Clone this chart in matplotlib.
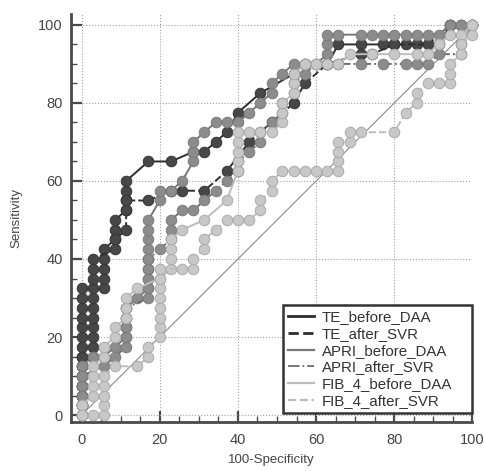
import matplotlib
matplotlib.use('Agg')
import matplotlib.pyplot as plt
from matplotlib.lines import Line2D
from matplotlib.ticker import MultipleLocator

plt.rcParams['font.family'] = ['Liberation Sans', 'DejaVu Sans']

# ROC points (100-Specificity, Sensitivity)
te_before_x = [0, 0, 0, 0, 0, 0, 0, 0, 0, 0, 0, 0, 0, 0,
               5.7, 5.7, 5.7, 5.7, 5.7, 8.6, 8.6, 8.6, 11.4, 11.4, 11.4, 11.4,
               17.1, 22.9, 28.6, 31.4, 34.3, 37.1, 40.0, 45.7, 54.3, 57.1, 62.9,
               65.7, 71.4, 77.1, 80.0, 82.9, 85.7, 91.4, 94.3, 97.1, 100]
te_before_y = [0, 2.5, 5, 7.5, 10, 12.5, 15, 17.5, 20, 22.5, 25, 27.5, 30, 32.5,
               32.5, 35, 37.5, 40, 42.5, 45, 47.5, 50, 52.5, 55, 57.5, 60,
               65, 65, 67.5, 67.5, 70, 72.5, 77.5, 82.5, 87.5, 90, 90,
               95, 95, 95, 95, 95, 95, 95, 100, 100, 100]

te_after_x = [0, 0, 0, 0, 0, 0, 0,
              2.9, 2.9, 2.9, 2.9, 2.9, 2.9, 2.9, 2.9, 2.9, 2.9, 2.9,
              8.6, 8.6, 11.4, 11.4, 11.4, 17.1, 22.9, 25.7, 31.4, 37.1, 42.9,
              48.6, 54.3, 57.1, 62.9, 71.4, 74.3, 80.0, 88.6, 94.3, 100]
te_after_y = [0, 2.5, 5, 7.5, 10, 12.5, 15,
              15, 17.5, 20, 22.5, 25, 27.5, 30, 32.5, 35, 37.5, 40,
              42.5, 45, 47.5, 52.5, 55, 55, 57.5, 57.5, 57.5, 62.5, 70,
              75, 80, 85, 90, 92.5, 92.5, 95, 95, 100, 100]

apri_before_x = [0, 0, 0, 0, 0, 0, 2.9, 5.7, 8.6, 11.4, 11.4, 11.4, 11.4, 14.3,
                 17.1, 17.1, 17.1, 17.1, 17.1, 17.1, 17.1, 17.1, 20.0, 20.0,
                 22.9, 25.7, 28.6, 28.6, 28.6, 31.4, 34.3, 37.1, 40.0, 42.9,
                 45.7, 48.6, 48.6, 51.4, 54.3, 57.1, 60.0, 62.9, 62.9, 62.9,
                 65.7, 71.4, 74.3, 77.1, 80.0, 82.9, 85.7, 88.6, 91.4, 94.3, 97.1, 100]
apri_before_y = [0, 2.5, 5, 7.5, 10, 12.5, 15, 15, 17.5, 20, 22.5, 25, 27.5, 30,
                 32.5, 35, 37.5, 40, 42.5, 45, 47.5, 50, 55, 57.5,
                 57.5, 60, 65, 67.5, 70, 72.5, 75, 75, 75, 77.5,
                 80, 82.5, 85, 87.5, 90, 90, 90, 92.5, 95, 97.5,
                 97.5, 97.5, 97.5, 97.5, 97.5, 97.5, 97.5, 97.5, 97.5, 100, 100, 100]

apri_after_x = [0, 0, 0, 0, 0, 5.7, 8.6, 11.4, 11.4, 11.4, 11.4, 11.4,
                17.1, 17.1, 17.1, 17.1, 17.1, 20.0, 22.9, 22.9, 22.9, 25.7, 28.6,
                31.4, 34.3, 37.1, 40.0, 40.0, 42.9, 45.7, 45.7, 48.6, 51.4, 51.4,
                54.3, 54.3, 57.1, 60.0, 65.7, 71.4, 77.1, 82.9, 85.7, 88.6, 91.4,
                97.1, 97.1, 100]
apri_after_y = [0, 2.5, 5, 7.5, 10, 12.5, 15, 17.5, 20, 22.5, 25, 27.5,
                30, 32.5, 35, 37.5, 40, 42.5, 45, 47.5, 50, 52.5, 52.5,
                55, 57.5, 60, 62.5, 65, 67.5, 70, 72.5, 75, 77.5, 80,
                82.5, 85, 87.5, 90, 90, 90, 90, 90, 90, 90, 92.5,
                92.5, 95, 100]

fib4_before_x = [0, 0, 2.9, 2.9, 2.9, 2.9, 5.7, 5.7, 8.6, 8.6, 11.4, 11.4, 11.4,
                 14.3, 20.0, 22.9, 22.9, 22.9, 22.9, 25.7, 31.4, 37.1,
                 40.0, 40.0, 40.0, 40.0, 40.0, 42.9, 45.7, 48.6, 51.4, 51.4, 51.4,
                 54.3, 54.3, 54.3, 57.1, 60.0, 62.9, 65.7, 68.6, 74.3, 80.0, 85.7,
                 88.6, 91.4, 94.3, 97.1, 100]
fib4_before_y = [0, 2.5, 5, 7.5, 10, 12.5, 15, 17.5, 20, 22.5, 25, 27.5, 30,
                 32.5, 35, 37.5, 40, 42.5, 45, 47.5, 50, 55,
                 62.5, 65, 67.5, 70, 72.5, 72.5, 72.5, 72.5, 75, 77.5, 80,
                 82.5, 85, 87.5, 90, 90, 90, 90, 92.5, 92.5, 92.5, 92.5,
                 92.5, 95, 97.5, 97.5, 100]

fib4_after_x = [0, 2.9, 5.7, 5.7, 5.7, 5.7, 5.7, 8.6, 14.3, 17.1, 17.1,
                20.0, 20.0, 20.0, 20.0, 20.0, 20.0, 20.0, 20.0, 25.7, 28.6, 28.6,
                31.4, 31.4, 34.3, 37.1, 40.0, 42.9, 45.7, 45.7, 48.6, 48.6,
                51.4, 54.3, 57.1, 60.0, 62.9, 65.7, 65.7, 65.7, 65.7, 68.6, 68.6,
                71.4, 80.0, 82.9, 85.7, 85.7, 88.6, 91.4, 94.3, 94.3, 94.3,
                97.1, 97.1, 100, 100]
fib4_after_y = [0, 0, 0, 2.5, 5, 7.5, 10, 12.5, 12.5, 15, 17.5,
                20, 22.5, 25, 27.5, 30, 32.5, 35, 37.5, 37.5, 37.5, 40,
                42.5, 45, 47.5, 50, 50, 50, 52.5, 55, 57.5, 60,
                62.5, 62.5, 62.5, 62.5, 62.5, 62.5, 65, 67.5, 70, 70, 72.5,
                72.5, 72.5, 77.5, 80, 82.5, 85, 85, 85, 87.5, 90,
                92.5, 95, 97.5, 100]

names = ['TE_before_DAA', 'TE_after_SVR', 'APRI_before_DAA', 'APRI_after_SVR',
         'FIB_4_before_DAA', 'FIB_4_after_SVR']

fig = plt.figure(figsize=(4.85, 4.71), dpi=100)
ax = fig.add_axes([0.1464, 0.1047, 0.8278, 0.8656])

ax.plot([0, 100], [0, 100], color='#8a8a8a', lw=0.8, zorder=1)

# (x, y, line colour, dash, marker face, marker edge) - drawn in legend order
curves = [
    (te_before_x, te_before_y, '#2e2e2e', '-', '#474747', '#353535'),
    (te_after_x, te_after_y, '#2e2e2e', '--', '#474747', '#353535'),
    (apri_before_x, apri_before_y, '#777777', '-', '#8c8c8c', '#7a7a7a'),
    (apri_after_x, apri_after_y, '#6e6e6e', '-.', '#8c8c8c', '#7a7a7a'),
    (fib4_before_x, fib4_before_y, '#bdbdbd', '-', '#c8c8c8', '#aaaaaa'),
    (fib4_after_x, fib4_after_y, '#bdbdbd', '--', '#c8c8c8', '#aaaaaa'),
]
for i, (xs, ys, lc, ls, fc, ec) in enumerate(curves):
    ax.plot(xs, ys, color=lc, ls=ls, lw=1.4, zorder=2 + i)
    ax.plot(xs, ys, 'o', ms=7.6, mfc=fc, mec=ec, mew=0.7, zorder=2 + i, clip_on=False)

ax.set_xlim(-2.7, 100)
ax.set_ylim(-1.7, 102.8)
ax.xaxis.set_major_locator(MultipleLocator(20))
ax.yaxis.set_major_locator(MultipleLocator(20))
ax.xaxis.set_minor_locator(MultipleLocator(5))
ax.yaxis.set_minor_locator(MultipleLocator(5))
ax.grid(True, which='major', ls=':', color='#a0a0a0', lw=0.8, zorder=0)

for s in ['top', 'right']:
    ax.spines[s].set_visible(False)
for s in ['left', 'bottom']:
    ax.spines[s].set_color('#4a4a4a')
    ax.spines[s].set_linewidth(2)

ax.tick_params(which='major', direction='in', length=8, width=1.6, color='#4a4a4a',
               labelsize=10.5, labelcolor='#444444')
ax.tick_params(which='minor', direction='in', length=4.5, width=1, color='#4a4a4a')
ax.tick_params(axis='x', which='major', pad=8)
ax.tick_params(axis='y', which='major', pad=6)

ax.set_xlabel('100-Specificity', fontsize=9.5, color='#444444', labelpad=5)
ax.set_ylabel('Sensitivity', fontsize=9.5, color='#444444', labelpad=11)

handles = [
    Line2D([], [], color='#2e2e2e', ls='-', lw=2),
    Line2D([], [], color='#2e2e2e', ls='--', lw=2),
    Line2D([], [], color='#777777', ls='-', lw=1.6),
    Line2D([], [], color='#6e6e6e', ls='-.', lw=1.3),
    Line2D([], [], color='#bdbdbd', ls='-', lw=1.6),
    Line2D([], [], color='#bdbdbd', ls='--', lw=1.6),
]
leg = ax.legend(handles, names, loc='lower left',
                bbox_to_anchor=(0.528, 0.021, 0.472, 0.28), mode='expand',
                fontsize=10.8, frameon=True, fancybox=False, framealpha=1,
                edgecolor='#333333', handlelength=1.7, labelspacing=0.18,
                borderpad=0.35, handletextpad=0.55, borderaxespad=0)
leg.get_frame().set_linewidth(1.8)
leg.set_zorder(20)
for t in leg.get_texts():
    t.set_color('#333333')

fig.savefig('out.png', dpi=100)
